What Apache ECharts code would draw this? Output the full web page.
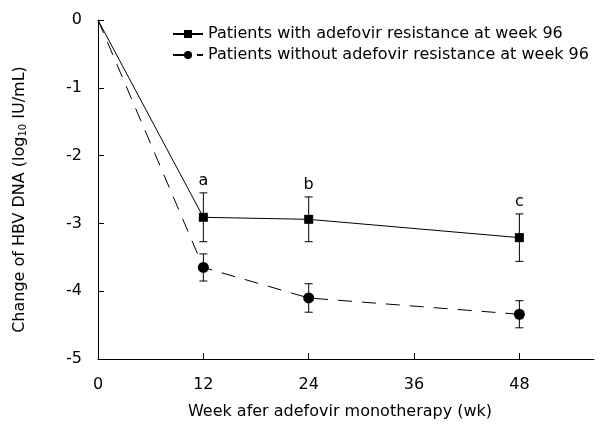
<!DOCTYPE html>
<html>
<head>
    <meta charset="UTF-8">
    <title>HBV DNA change</title>
    <script src="https://cdn.jsdelivr.net/npm/echarts@6/dist/echarts.min.js"></script>
    <style>
        html, body { margin: 0; padding: 0; background: #fff; }
        #main { width: 600px; height: 429px; }
    </style>
</head>
<body>
    <div id="main"></div>
    <script>
        var weeks = [0, 12, 24, 48];
        var xTicks = [0, 12, 24, 36, 48];
        var withRes = [0, -2.91, -2.94, -3.21];
        var withResErr = [0, 0.36, 0.33, 0.35];
        var withoutRes = [0, -3.65, -4.10, -4.34];
        var withoutResErr = [0, 0.20, 0.21, 0.20];
        var sigLabels = ['', 'a', 'b', 'c'];
        var names = [
            'Patients with adefovir resistance at week 96',
            'Patients without adefovir resistance at week 96'
        ];

        var font = 'DejaVu Sans';
        var fs = 16;
        var chart = echarts.init(document.getElementById('main'));

        // no marker drawn at week 0
        function pairs(vals) {
            return weeks.map(function (w, i) {
                return i === 0 ? { value: [w, vals[i]], symbol: 'none' } : [w, vals[i]];
            });
        }

        function errData(vals, errs, withLabel) {
            var res = [];
            for (var i = 1; i < weeks.length; i++) {
                res.push([weeks[i], vals[i] - errs[i], vals[i] + errs[i], withLabel ? sigLabels[i] : '']);
            }
            return res;
        }

        function renderErr(params, api) {
            var x = api.value(0);
            var lo = api.coord([x, api.value(1)]);
            var hi = api.coord([x, api.value(2)]);
            var cap = 4;
            var style = { stroke: '#000', lineWidth: 1 };
            var children = [
                { type: 'line', shape: { x1: lo[0], y1: lo[1], x2: hi[0], y2: hi[1] }, style: style },
                { type: 'line', shape: { x1: lo[0] - cap, y1: lo[1], x2: lo[0] + cap, y2: lo[1] }, style: style },
                { type: 'line', shape: { x1: hi[0] - cap, y1: hi[1], x2: hi[0] + cap, y2: hi[1] }, style: style }
            ];
            var txt = api.value(3);
            if (txt) {
                children.push({
                    type: 'text',
                    style: {
                        text: txt, x: hi[0], y: hi[1] - 4,
                        align: 'center', verticalAlign: 'bottom',
                        font: fs + 'px "' + font + '"', fill: '#000'
                    }
                });
            }
            return { type: 'group', children: children };
        }

        var option = {
            animation: false,
            textStyle: { fontFamily: font, color: '#000' },
            grid: { left: 98, right: 6, top: 20, bottom: 70 },
            legend: {
                orient: 'vertical',
                left: 167,
                top: 21,
                itemWidth: 30,
                itemHeight: 10,
                itemGap: 5,
                textStyle: { fontSize: fs, color: '#000', fontFamily: font },
                data: names
            },
            xAxis: {
                type: 'value',
                min: 0,
                max: 56.5,
                interval: 12,
                name: 'Week afer adefovir monotherapy (wk)',
                nameLocation: 'middle',
                nameGap: 45,
                nameTextStyle: { fontSize: fs, color: '#000', padding: [0, 12, 0, 0] },
                axisLine: { onZero: false, lineStyle: { color: '#000', width: 1 } },
                axisTick: { inside: true, length: 6, lineStyle: { color: '#000' }, customValues: xTicks },
                axisLabel: { fontSize: fs, color: '#000', margin: 18, customValues: xTicks },
                splitLine: { show: false }
            },
            yAxis: {
                type: 'value',
                min: -5,
                max: 0,
                interval: 1,
                name: 'Change of HBV DNA (log{sub|10} IU/mL)',
                nameLocation: 'middle',
                nameGap: 70,
                nameRotate: 90,
                nameTextStyle: {
                    fontSize: fs, color: '#000', padding: [0, 20, 0, 0],
                    rich: { sub: { fontSize: 10, color: '#000', verticalAlign: 'bottom' } }
                },
                axisLine: { show: true, onZero: false, lineStyle: { color: '#000', width: 1 } },
                axisTick: { show: true, inside: true, length: 6, lineStyle: { color: '#000' } },
                axisLabel: { fontSize: fs, color: '#000', margin: 16 },
                splitLine: { show: false }
            },
            series: [
                {
                    name: names[0],
                    type: 'line',
                    data: pairs(withRes),
                    symbol: 'rect',
                    symbolSize: 9,
                    lineStyle: { color: '#000', width: 1 },
                    itemStyle: { color: '#000' },
                    z: 3
                },
                {
                    name: names[1],
                    type: 'line',
                    data: pairs(withoutRes),
                    symbol: 'circle',
                    symbolSize: 11,
                    lineStyle: { color: '#000', width: 1, type: [14, 10] },
                    itemStyle: { color: '#000' },
                    z: 3
                },
                {
                    type: 'custom',
                    data: errData(withRes, withResErr, true),
                    renderItem: renderErr,
                    z: 2
                },
                {
                    type: 'custom',
                    data: errData(withoutRes, withoutResErr, false),
                    renderItem: renderErr,
                    z: 2
                }
            ]
        };
        chart.setOption(option);
    </script>
</body>
</html>
